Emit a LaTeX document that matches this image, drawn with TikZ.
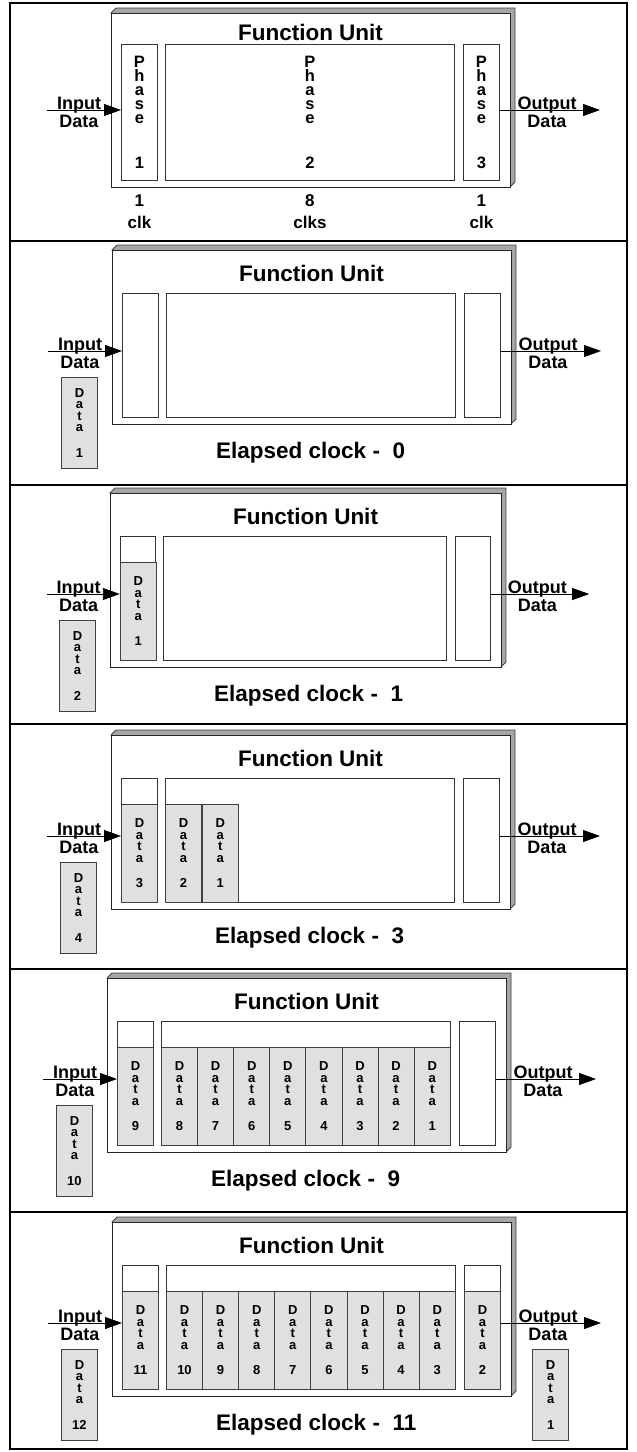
\documentclass[tikz,border=0pt]{standalone}
\usepackage{fontspec}
\setmainfont{Liberation Sans}
\usetikzlibrary{arrows.meta,calc,positioning}

\begin{document}
\begin{tikzpicture}[x=1pt, y=-1pt, >={Triangle[length=17pt,width=12pt]},
    frameline/.style={line width=2.2pt},
    unitbox/.style={draw=black!85, line width=1.2pt, fill=white, inner sep=0pt, anchor=north west, minimum height=174},
    bevel/.style={draw=black!75, line width=0.8pt, fill=black!35},
    phasebox/.style={draw=black!80, line width=0.9pt, fill=white, inner sep=0pt, anchor=north west},
    cell/.style={draw=black!75, line width=0.9pt, fill=black!12, inner sep=0pt, minimum width=36, minimum height=98, anchor=south west, align=center, font=\fontsize{13}{11.5}\selectfont\bfseries},
    card/.style={cell, minimum height=91, anchor=north west},
    title/.style={font=\fontsize{22.5}{26}\selectfont\bfseries, inner sep=0pt},
    iolabel/.style={font=\fontsize{18}{21}\selectfont\bfseries, inner sep=0pt},
    phasetext/.style={align=center, font=\fontsize{16.5}{14}\selectfont\bfseries, inner sep=0pt},
    clktext/.style={align=center, font=\fontsize{17}{18}\selectfont\bfseries, inner sep=0pt},
    flow/.style={->, line width=0.9pt}]

\useasboundingbox (0,0) rectangle (637,1452);

% outer frame and the six time steps
\draw[frameline] (10,3) rectangle (627,1449);
\foreach \yy in {241,485,724,969,1212}
    \draw[frameline] (10,\yy) -- (627,\yy);

% one function unit per step
\foreach \n/\px/\py/\sx/\ph/\ay/\ty in {1/111/13/1/31/97/19, 2/112/250/1/43/101/23, 3/110/493/0.98/43/101/23, 4/111/735/1/43/101/23, 5/107/978/1/43/101/23, 6/112/1222/1/43/101/23}{
  \begin{scope}[shift={(\px,\py)}, xscale=\sx]
    \filldraw[bevel] (0,0) -- (5,-5) -- (404,-5) -- (404,169) -- (399,174) -- cycle;
    \node[unitbox, minimum width=399*\sx] (fu\n) at (0,0) {};
    \node[title] (fut\n) at (199.5,\ty) {Function Unit};
    \node[phasebox, minimum width=36*\sx, minimum height=167-\ph] (pha\n) at (10,\ph) {};
    \node[phasebox, minimum width=289*\sx, minimum height=167-\ph] (phb\n) at (54,\ph) {};
    \node[phasebox, minimum width=36*\sx, minimum height=167-\ph] (phc\n) at (352,\ph) {};
    \coordinate (in\n) at (-64,\ay);
    \coordinate (out\n) at (489,\ay);
    \draw[flow] (in\n) -- (in\n -| pha\n.west);
    \draw[flow] (out\n -| phc\n.east) -- (out\n);
    \node[iolabel, anchor=base] (inl\n) at (-32,\ay-1) {Input};
    \node[iolabel, anchor=north] (ind\n) at (-32,\ay+5) {Data};
    \node[iolabel, anchor=base] (outl\n) at (436,\ay-1) {Output};
    \node[iolabel, anchor=north] (outd\n) at (436,\ay+5) {Data};
  \end{scope}
}

% phases and their clocks
\node[phasetext] (lab1) at (pha1.center) {P\\h\\a\\s\\e\\[31pt]1};
\node[phasetext] (lab2) at (phb1.center) {P\\h\\a\\s\\e\\[31pt]2};
\node[phasetext] (lab3) at (phc1.center) {P\\h\\a\\s\\e\\[31pt]3};
\node[clktext, below=14pt of pha1] (clk1) {1\\[4pt]clk};
\node[clktext, below=14pt of phb1] (clk2) {8\\[4pt]clks};
\node[clktext, below=14pt of phc1] (clk3) {1\\[4pt]clk};

\foreach \n/\cc in {2/0,3/1,4/3,5/9,6/11}
    \node[title, anchor=west] (el\n) at ($(fu\n.north west)+(104,203)$) {Elapsed clock -\ \ \cc};

% waiting data
\foreach \n/\dd in {2/1,3/2,4/4,5/10,6/12}
    \node[card] (card\n) at ($(fu\n.north west)+(-51,127)$) {D\\a\\t\\a\\[14pt]\dd};
\node[card] (cardout) at ($(fu6.north east)+(20,127)$) {D\\a\\t\\a\\[14pt]1};

% data inside the unit
\node[cell] (d3a) at (pha3.south west) {D\\a\\t\\a\\[14pt]1};

\node[cell] (d4a) at (pha4.south west) {D\\a\\t\\a\\[14pt]3};
\node[cell] (d4b) at (phb4.south west) {D\\a\\t\\a\\[14pt]2};
\node[cell, right=0pt of d4b] (d4c) {D\\a\\t\\a\\[14pt]1};

\node[cell] (d5a) at (pha5.south west) {D\\a\\t\\a\\[14pt]9};
\foreach \k [evaluate=\k as \dd using int(9-\k)] in {1,...,8}
    \node[cell, minimum width=36.1] (d5b\k) at ($(phb5.south west)+({36.1*(\k-1)},0)$) {D\\a\\t\\a\\[14pt]\dd};

\node[cell] (d6a) at (pha6.south west) {D\\a\\t\\a\\[14pt]11};
\foreach \k [evaluate=\k as \dd using int(11-\k)] in {1,...,8}
    \node[cell, minimum width=36.1] (d6b\k) at ($(phb6.south west)+({36.1*(\k-1)},0)$) {D\\a\\t\\a\\[14pt]\dd};
\node[cell] (d6c) at (phc6.south west) {D\\a\\t\\a\\[14pt]2};
\end{tikzpicture}
\end{document}
